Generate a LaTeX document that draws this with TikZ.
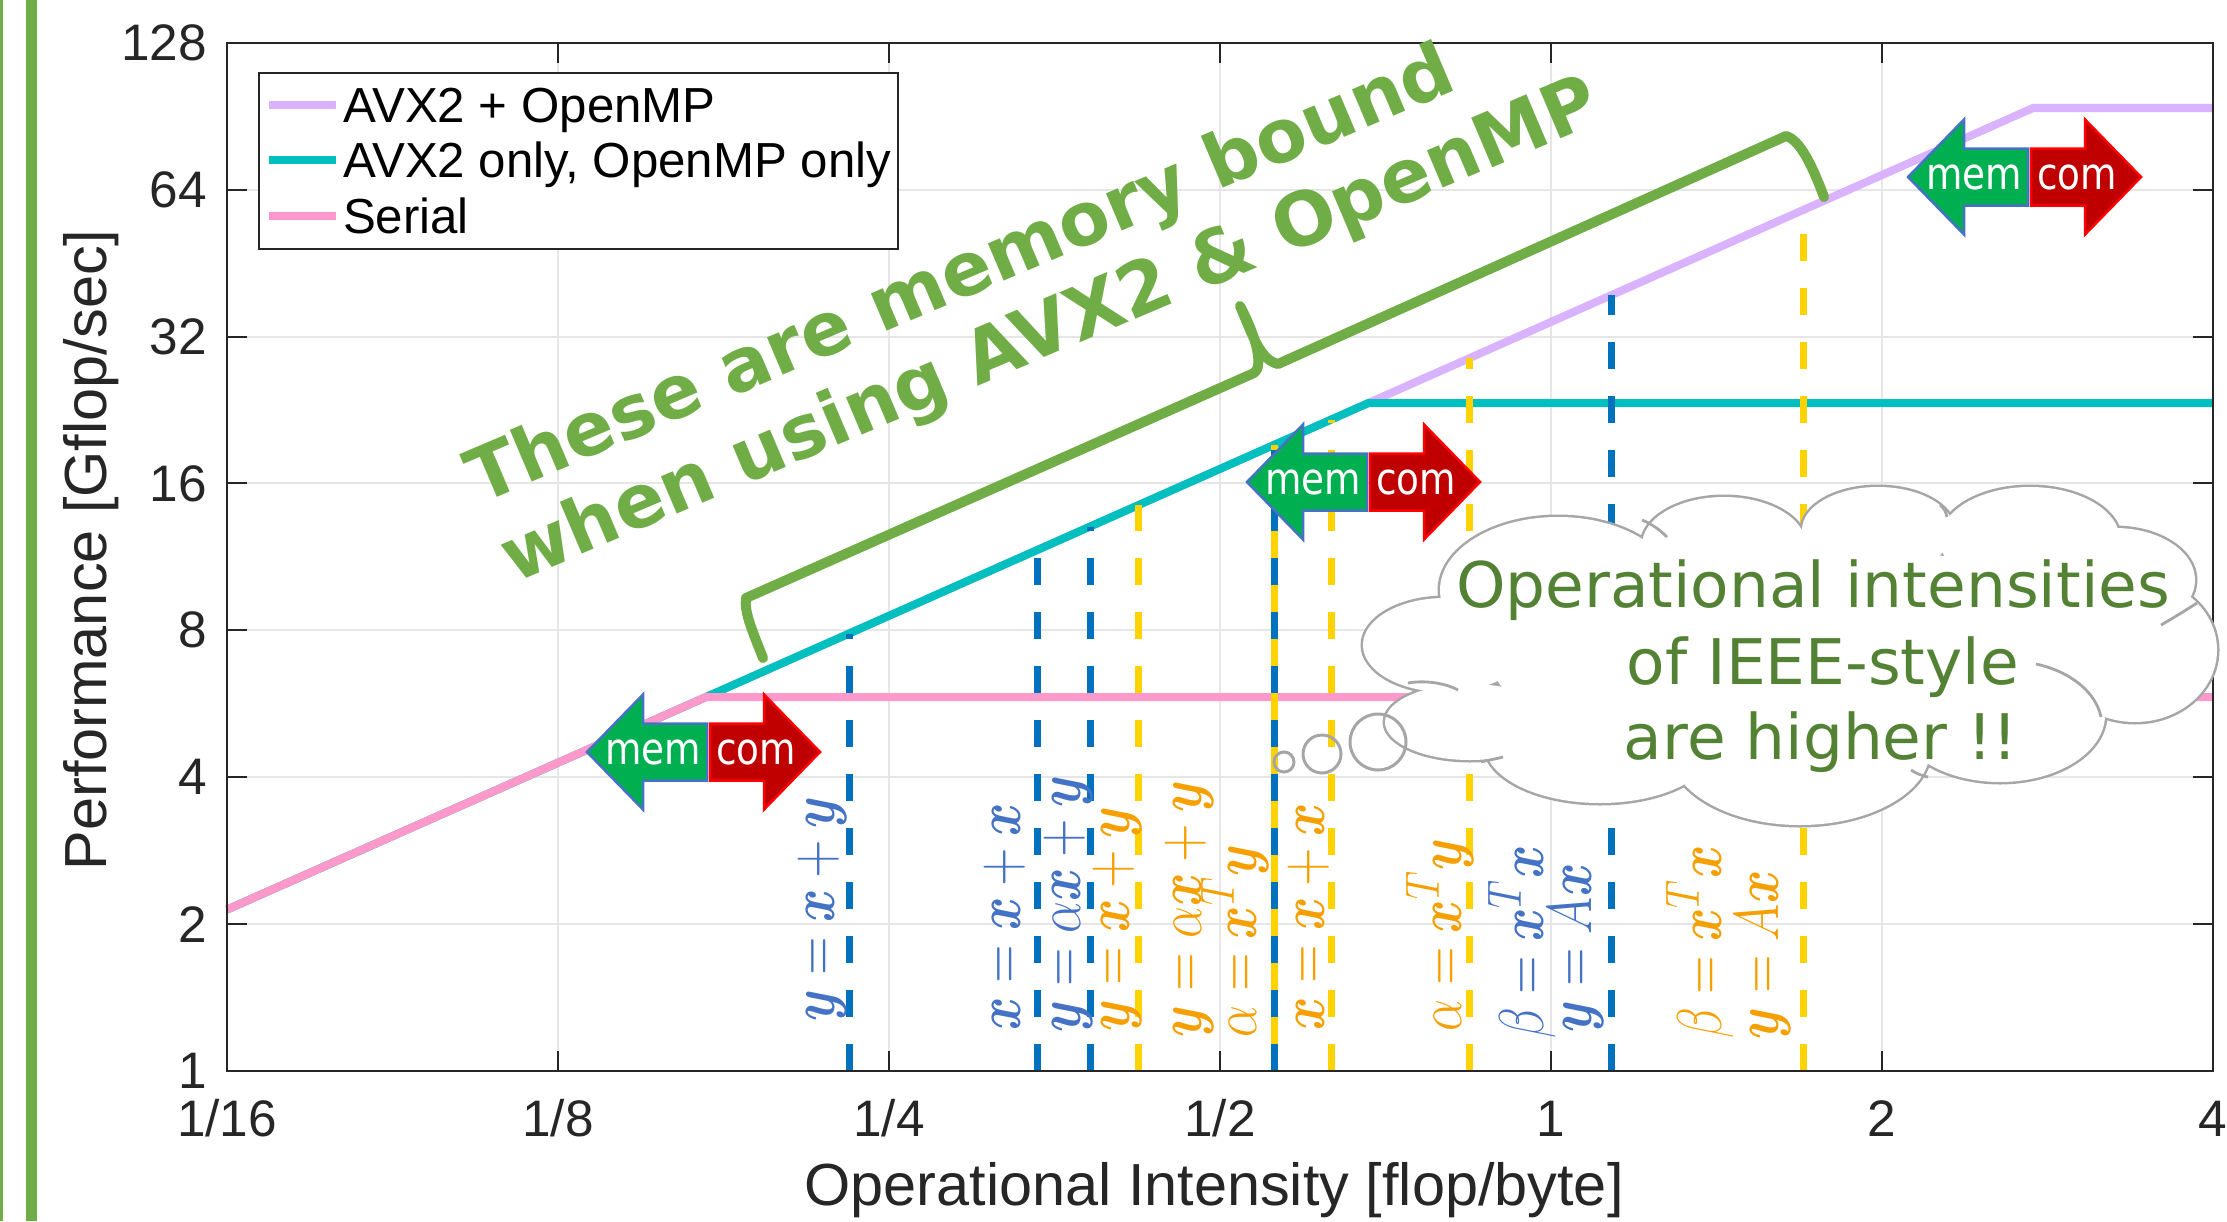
\documentclass[tikz,border=0pt]{standalone}
\usepackage{fontspec}
\usepackage{amsmath}
\usepackage{graphicx}
\newfontfamily\axf{Liberation Sans}
\newfontfamily\dvs{DejaVu Sans}
\definecolor{gbar}{HTML}{70AD47}
\definecolor{cloudtxt}{HTML}{548235}
\definecolor{purp}{HTML}{D9B3FF}
\definecolor{cyn}{HTML}{00BFBF}
\definecolor{pnk}{HTML}{FF99CC}
\definecolor{dblue}{HTML}{0072BD}
\definecolor{dyel}{HTML}{FFD200}
\definecolor{lblue}{HTML}{4472C4}
\definecolor{lorng}{HTML}{F5A000}
\definecolor{memg}{HTML}{00B050}
\definecolor{comr}{HTML}{C00000}
\definecolor{gridc}{HTML}{E6E6E6}
\definecolor{axc}{HTML}{262626}
\definecolor{cloudl}{HTML}{A6A6A6}
\tikzset{
  every node/.style={inner sep=0pt, outer sep=0pt},
  gridline/.style={draw=gridc, line width=0.2mm},
  axisline/.style={draw=axc, line width=0.2mm},
  roof/.style={line width=0.8mm},
  dashb/.style={draw=dblue, line width=0.7mm, dash pattern=on 2.7mm off 2.7mm},
  dashy/.style={draw=dyel, line width=0.7mm, dash pattern=on 2.7mm off 2.7mm},
  ticklbl/.style={font=\axf\fontsize{14.6}{17}\selectfont, text=axc},
  leglbl/.style={font=\axf\fontsize{14.0}{16}\selectfont, text=black, anchor=base west},
  axlbl/.style={font=\axf\fontsize{16.9}{19}\selectfont, text=axc},
  mlbl/.style={font=\fontsize{15}{18}\selectfont, rotate=90},
  mctext/.style={font=\dvs\fontsize{12.5}{14}\selectfont, text=white},
  memarrow/.style={fill=memg, draw=lblue, line width=0.25mm, line join=miter},
  comarrow/.style={fill=comr, draw=red, line width=0.25mm, line join=miter},
  cloudline/.style={draw=cloudl, line width=0.5mm},
  stub/.style={draw=cloudl, line width=0.28mm},
  bubble/.style={draw=cloudl, line width=0.3mm},
  cloudtext/.style={font=\dvs\fontsize{17.9}{22}\selectfont, text=cloudtxt, anchor=base},
  brace/.style={draw=gbar, line width=1.0mm, line join=round, line cap=round},
  bigtext/.style={font=\dvs\bfseries\fontsize{21.05}{25}\selectfont, text=gbar, rotate=23, anchor=base west},
  memcom/.pic={
    \draw[memarrow] (0,0) -- (56,-57.5) -- (56,-28.5) -- (120,-28.5) -- (120,28.5) -- (56,28.5) -- (56,57.5) -- cycle;
    \draw[comarrow] (233,0) -- (177,-57.5) -- (177,-28.5) -- (123,-28.5) -- (123,28.5) -- (177,28.5) -- (177,57.5) -- cycle;
    \node[mctext] (-mem) at (66,0) {\scalebox{0.85}[1]{mem}};
    \node[mctext] (-com) at (169,0) {\scalebox{0.85}[1]{com}};
  }
}
\begin{document}
\begin{tikzpicture}[x=0.01cm, y=-0.01cm]
\useasboundingbox (0,0) rectangle (2227,1221);
% left green bars
\fill[gbar] (0,0) rectangle (3,1221);
\fill[gbar] (26,0) rectangle (37,1221);
% grid
\foreach \k in {1,...,5} \draw[gridline] ({227+331*\k},1071) -- ({227+331*\k},42.7);
\foreach \k in {1,...,6} \draw[gridline] (227,{1071-146.9*\k}) -- (2213,{1071-146.9*\k});
% rooflines
\draw[roof, purp] (227,909.6) -- (2033,108) -- (2213,108);
\draw[roof, cyn] (227,909.6) -- (1368.5,403) -- (2213,403);
\draw[roof, pnk] (227,909.6) -- (706,697) -- (2213,697);
% dashed lines
\draw[draw=dyel, line width=0.7mm] (1274,1071) -- (1274,{909.6-0.4438*(1274-227)});
\foreach \x in {1138,1331,1469,1803} \draw[dashy] (\x,1071) -- (\x,{909.6-0.4438*(\x-227)});
\foreach \x in {849,1037,1090,1274,1611} \draw[dashb] (\x,1071) -- (\x,{909.6-0.4438*(\x-227)});
% axes box and ticks
\draw[axisline] (227,42.7) rectangle (2213,1071);
\foreach \k in {1,...,5} {
  \draw[axisline] ({227+331*\k},1071) -- ({227+331*\k},1051);
  \draw[axisline] ({227+331*\k},42.7) -- ({227+331*\k},62.7);
}
\foreach \k in {1,...,6} {
  \draw[axisline] (227,{1071-146.9*\k}) -- (247,{1071-146.9*\k});
  \draw[axisline] (2213,{1071-146.9*\k}) -- (2193,{1071-146.9*\k});
}
% tick labels
\foreach \lab [count=\k from 0] in {1,2,4,8,16,32,64,128}
  \node[ticklbl, anchor=east] (yl\k) at (207,{1071-146.9*\k}) {\lab};
\foreach \lab [count=\k from 0] in {1/16,1/8,1/4,1/2,1,2,4}
  \node[ticklbl, anchor=base] (xl\k) at ({227+331*\k},1136) {\lab};
\node[axlbl, anchor=base] (xlabel) at (1214,1205) {Operational Intensity [flop/byte]};
\node[axlbl, anchor=base, rotate=90] (ylabel) at (106,550) {Performance [Gflop/sec]};
% legend
\draw[fill=white, draw=axc, line width=0.2mm] (259,73) rectangle (898,249);
\draw[roof, purp] (269,105) -- (336,105);
\draw[roof, cyn] (269,160) -- (336,160);
\draw[roof, pnk] (269,216) -- (336,216);
\node[leglbl] (lg1) at (343,122) {AVX2 + OpenMP};
\node[leglbl] (lg2) at (343,177) {AVX2 only, OpenMP only};
\node[leglbl] (lg3) at (343,233) {Serial};
% math labels
\node[mlbl, text=lblue] (m1) at (822,909) {\scalebox{1}[1.25]{$\boldsymbol{y}=\boldsymbol{x}+\boldsymbol{y}$}};
\node[mlbl, text=lblue] (m2) at (1005,917) {\scalebox{1}[1.25]{$\boldsymbol{x}=\boldsymbol{x}+\boldsymbol{x}$}};
\node[mlbl, text=lblue] (m3) at (1068,904) {\scalebox{1}[1.25]{$\boldsymbol{y}=\alpha\boldsymbol{x}+\boldsymbol{y}$}};
\node[mlbl, text=lorng] (m4) at (1117,919) {\scalebox{1}[1.25]{$\boldsymbol{y}=\boldsymbol{x}+\boldsymbol{y}$}};
\node[mlbl, text=lorng] (m5) at (1189,909) {\scalebox{1}[1.25]{$\boldsymbol{y}=\alpha\boldsymbol{x}+\boldsymbol{y}$}};
\node[mlbl, text=lorng] (m6) at (1235,941) {\scalebox{1}[1.25]{$\alpha=\boldsymbol{x}^T\boldsymbol{y}$}};
\node[mlbl, text=lorng] (m7) at (1309,917) {\scalebox{1}[1.25]{$\boldsymbol{x}=\boldsymbol{x}+\boldsymbol{x}$}};
\node[mlbl, text=lorng] (m8) at (1440,935) {\scalebox{1}[1.25]{$\alpha=\boldsymbol{x}^T\boldsymbol{y}$}};
\node[mlbl, text=lblue] (m9) at (1522,942) {\scalebox{1}[1.25]{$\beta=\boldsymbol{x}^T\boldsymbol{x}$}};
\node[mlbl, text=lblue] (m10) at (1576,948) {\scalebox{1}[1.25]{$\boldsymbol{y}=A\boldsymbol{x}$}};
\node[mlbl, text=lorng] (m11) at (1700,942) {\scalebox{1}[1.25]{$\beta=\boldsymbol{x}^T\boldsymbol{x}$}};
\node[mlbl, text=lorng] (m12) at (1763,955) {\scalebox{1}[1.25]{$\boldsymbol{y}=A\boldsymbol{x}$}};
% mem/com arrows
\pic (mc1) at (587,752) {memcom};
\pic (mc2) at (1247,482) {memcom};
\pic (mc3) at (1908,177) {memcom};
% cloud
\def\cloudlist{1445/645/82/47, 1470/722/85/38, 1600/745/115/58, 1800/750/130/75, 2000/715/105/67, 2135/650/82/72, 2115/580/80/52, 2030/540/90/53, 1878/530/76/43, 1724/545/82/48, 1558/590/118/73, 1790/655/300/115}
\foreach \cx/\cy/\rx/\ry in \cloudlist \draw[cloudline] (\cx,\cy) ellipse [x radius=\rx, y radius=\ry];
\foreach \cx/\cy/\rx/\ry in \cloudlist \fill[white] (\cx,\cy) ellipse [x radius=\rx, y radius=\ry];
\draw[stub] (1642,520) .. controls (1652,524) and (1660,530) .. (1667,537);
\draw[stub] (2036,664) .. controls (2072,672) and (2096,693) .. (2101,717);
\draw[stub] (1408,683) .. controls (1425,680) and (1445,683) .. (1458,690);
\draw[stub] (1481,762) .. controls (1488,760) and (1496,759) .. (1503,757);
\draw[stub] (1911,770) .. controls (1917,774) and (1923,776) .. (1928,777);
\draw[stub] (2161,625) .. controls (2175,617) and (2186,610) .. (2197,603);
\draw[stub] (1940,505) .. controls (1944,508) and (1946,512) .. (1947,517);
\node[cloudtext] (c1) at (1813,607) {Operational intensities};
\node[cloudtext] (c2) at (1823,684) {of IEEE-style};
\node[cloudtext] (c3) at (1821,759) {are higher !!};
\draw[bubble] (1284,762) circle [radius=10];
\draw[bubble] (1322,754) circle [radius=19];
\draw[bubble] (1378,742) circle [radius=28];
% brace
\draw[brace] (763,658) .. controls (752,630) and (744,612) .. (746,598) -- (1254,373) .. controls (1263,367) and (1258,340) .. (1240,306) .. controls (1252,334) and (1260,360) .. (1278,364) -- (1786,136) .. controls (1800,140) and (1812,165) .. (1824,197);
% annotation text
\node[bigtext] (bt1) at (480,504) {These are memory bound};
\node[bigtext] (bt2) at (514,583) {when using AVX2 \& OpenMP};
\end{tikzpicture}
\end{document}
